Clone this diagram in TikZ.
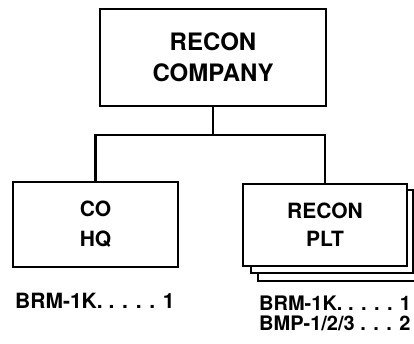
\documentclass[tikz,border=0pt]{standalone}
\usepackage{fontspec}
\setmainfont{TeX Gyre Heros}
\begin{document}
\begin{tikzpicture}[x=1pt,y=-1pt,
  box/.style={draw, line width=2.4pt, fill=white, inner sep=0pt, align=center, font=\bfseries},
  lbl/.style={font=\bfseries\fontsize{21}{22}\selectfont, inner sep=0pt},
  conn/.style={line width=2.2pt}]
\useasboundingbox (0,0) rectangle (414,343);
\clip (0,0) rectangle (414,343);
% top box
\node[box, minimum width=226pt, minimum height=97pt, font=\bfseries\fontsize{24}{31}\selectfont] (top) at (213,57.5) {RECON\\COMPANY};
% left box
\node[box, minimum width=165pt, minimum height=85pt, font=\bfseries\fontsize{21}{30}\selectfont] (cohq) at (95.5,224.5) {CO\\HQ};
% right stack
\node[box, minimum width=162pt, minimum height=84pt] (plt3) at (339,239) {};
\node[box, minimum width=162pt, minimum height=83pt] (plt2) at (332,231.5) {};
\node[box, minimum width=164pt, minimum height=82pt, font=\bfseries\fontsize{21}{28}\selectfont] (plt) at (325,225) {RECON\\PLT};
% connectors
\coordinate (bar) at (213,135);
\draw[conn] (top.south) -- (bar);
\draw[conn] (cohq.north) |- (bar) -| (plt.north);
% labels
\node[lbl, anchor=base west] (l1) at (15,308) {BRM-1K. . . . . 1};
\node[lbl, anchor=base west, font=\bfseries\fontsize{20}{22}\selectfont] (r1) at (259,310) {BRM-1K. . . . . 1};
\node[lbl, anchor=base west, font=\bfseries\fontsize{20}{22}\selectfont] (r2) at (259,330) {BMP-1/2/3 . . . 2};
\end{tikzpicture}
\end{document}
